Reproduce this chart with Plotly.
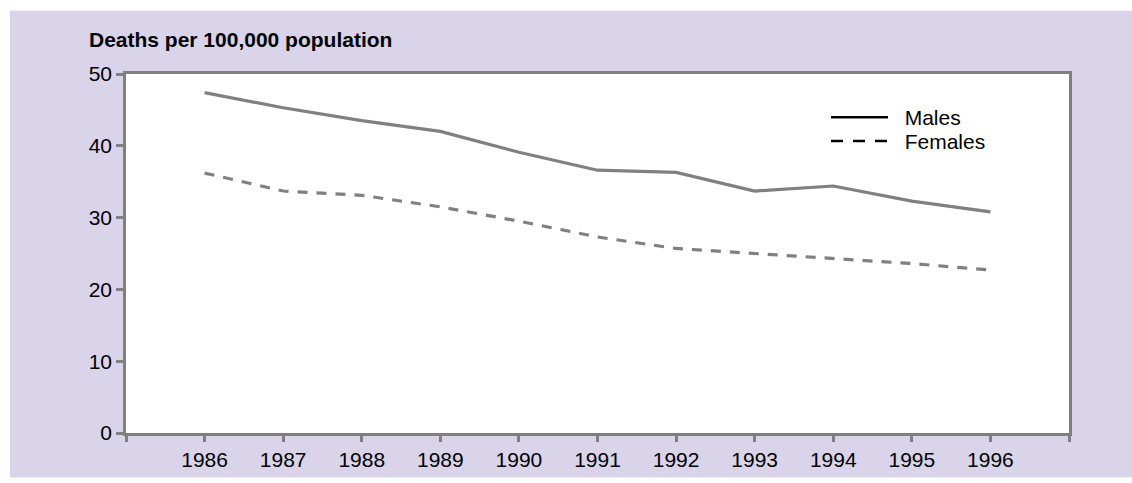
import plotly.graph_objects as go

years = [1986, 1987, 1988, 1989, 1990, 1991, 1992, 1993, 1994, 1995, 1996]
males = [47.4, 45.3, 43.5, 42.0, 39.1, 36.6, 36.3, 33.7, 34.4, 32.3, 30.8]
females = [36.2, 33.7, 33.1, 31.5, 29.5, 27.3, 25.7, 25.0, 24.3, 23.6, 22.7]
x_tickvals = list(range(1985, 1998))
x_ticktext = [""] + [str(y) for y in years] + [""]
y_tickvals = [0, 10, 20, 30, 40, 50]

GRAY = "#808080"
LAV = "#D9D4E9"
FONT = "Liberation Sans, Arial, sans-serif"
NB = "\u00a0\u00a0"

fig = go.Figure()
fig.add_trace(go.Scatter(x=years, y=males, mode="lines", name="Males",
                         line=dict(color=GRAY, width=3.2), showlegend=False))
fig.add_trace(go.Scatter(x=years, y=females, mode="lines", name="Females",
                         line=dict(color=GRAY, width=3.2, dash="10px,9px"), showlegend=False))
# legend entries (black samples as in the original)
fig.add_trace(go.Scatter(x=[None], y=[None], mode="lines", name=NB + "Males",
                         line=dict(color="black", width=2.5), legend="legend"))
fig.add_trace(go.Scatter(x=[None], y=[None], mode="lines", name=NB + "Females",
                         line=dict(color="black", width=2.5, dash="12px,10px"),
                         legend="legend2"))

leg_common = dict(xanchor="left", yanchor="middle", bgcolor="rgba(0,0,0,0)",
                  font=dict(size=21, family=FONT), itemwidth=57)

fig.update_layout(
    width=1132, height=483,
    margin=dict(l=126, r=63, t=74, b=46),
    paper_bgcolor="white",
    plot_bgcolor="white",
    font=dict(family=FONT, size=21, color="black"),
    legend=dict(x=(826 - 126) / 943, y=(437 - 118) / 363, **leg_common),
    legend2=dict(x=(826 - 126) / 943, y=(437 - 142) / 363, **leg_common),
    shapes=[
        dict(type="rect", xref="paper", yref="paper",
             x0=(10 - 126) / 943, x1=(1132 - 126) / 943,
             y0=(437 - 482) / 363, y1=(437 - 10) / 363,
             fillcolor=LAV, line=dict(width=0), layer="below"),
        dict(type="rect", xref="x domain", yref="y domain",
             x0=0, x1=1, y0=0, y1=1,
             fillcolor="white", line=dict(width=0), layer="below"),
    ],
    annotations=[
        dict(text="<b>Deaths per 100,000 population</b>", xref="paper", yref="paper",
             x=(87 - 126) / 943, y=(437 - 39) / 363, xanchor="left", yanchor="middle",
             showarrow=False, font=dict(size=21, family=FONT)),
    ],
)
fig.update_xaxes(range=[1985, 1997], tickvals=x_tickvals, ticktext=x_ticktext,
                 showgrid=False, zeroline=False, showline=True, linecolor=GRAY,
                 linewidth=2.5, mirror=True, ticks="outside", ticklen=6,
                 tickwidth=2.5, tickcolor=GRAY, tickfont=dict(size=21))
fig.update_yaxes(range=[0, 50], tickvals=y_tickvals, showgrid=False, zeroline=False,
                 showline=True, linecolor=GRAY, linewidth=2.5, mirror=True,
                 ticks="outside", ticklen=7, tickwidth=2.5, tickcolor=GRAY,
                 tickfont=dict(size=21))

fig.write_html("out.html", config={"displayModeBar": False},
               post_script="document.body.style.margin='0px';"
                           "document.body.style.overflow='hidden';")
